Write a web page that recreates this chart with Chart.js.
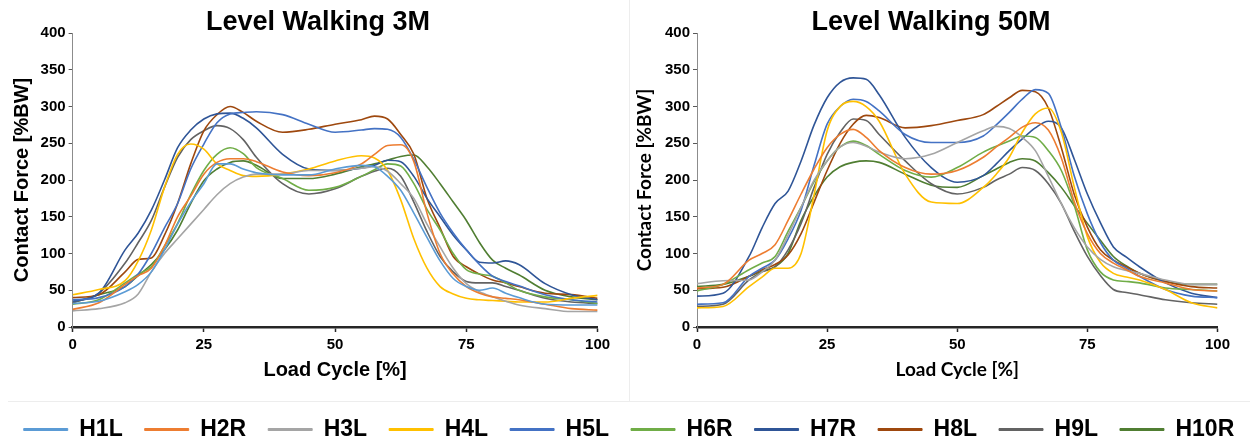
<!DOCTYPE html>
<html>
<head>
<meta charset="utf-8">
<script src="https://cdn.jsdelivr.net/npm/chart.js@4.4.1/dist/chart.umd.min.js"></script>
<style>
    html, body { margin: 0; padding: 0; background: #fff; }
    body { width: 1258px; height: 443px; position: relative; overflow: hidden; }
    canvas { position: absolute; }
    #chart3m { left: 0; top: 0; }
    #chart50m { left: 629px; top: 0; }
    #legendChart { left: 0; top: 396px; }
    .frame { position: absolute; background: #ededed; }
</style>
</head>
<body>
<div class="frame" style="left:8px;top:401px;width:1242px;height:1px"></div>
<div class="frame" style="left:629px;top:0;width:1px;height:402px"></div>
<canvas id="chart3m" width="636" height="402"></canvas>
<canvas id="chart50m" width="605" height="402"></canvas>
<canvas id="legendChart" width="1258" height="130"></canvas>
<script>
// ==================== ДАННЫЕ ====================

// Load cycle [%] sample positions (shared by all series)
const loadCycle = [0, 5, 10, 12.5, 15, 17.5, 20, 22.5, 25, 27.5, 30, 32.5, 35, 40, 45, 50, 55, 57.5, 60, 62.5, 65, 67.5, 70, 72.5, 75, 77.5, 80, 82.5, 85, 90, 95, 100];
const xTicks = [0, 25, 50, 75, 100];
const yTicks = [0, 50, 100, 150, 200, 250, 300, 350, 400];
const subjects = ['H1L', 'H2R', 'H3L', 'H4L', 'H5L', 'H6R', 'H7R', 'H8L', 'H9L', 'H10R'];

// Level walking 3M, contact force [%BW]
const w3_H1L  = [32, 35, 48, 58, 75, 105, 140, 170, 195, 222, 222, 215, 210, 207, 207, 215, 220, 218, 205, 186, 155, 122, 90, 66, 55, 50, 53, 46, 40, 31, 30, 30];
const w3_H2R  = [24, 33, 58, 70, 80, 110, 150, 178, 208, 224, 229, 229, 225, 211, 206, 210, 222, 235, 247, 248, 225, 155, 100, 72, 55, 46, 41, 39, 37, 31, 25, 23];
const w3_H3L  = [22, 25, 33, 45, 75, 100, 120, 140, 160, 180, 195, 204, 208, 208, 213, 213, 216, 218, 212, 195, 175, 140, 109, 80, 59, 48, 41, 35, 30, 25, 21, 21];
const w3_H4L  = [44, 51, 63, 90, 132, 190, 235, 249, 242, 222, 213, 206, 205, 208, 215, 226, 233, 230, 213, 173, 120, 80, 55, 45, 39, 37, 36, 35, 34, 34, 39, 43];
const w3_H5L  = [37, 40, 55, 72, 100, 135, 168, 215, 249, 278, 290, 292, 293, 289, 276, 265, 268, 270, 269, 258, 228, 190, 155, 128, 105, 85, 69, 62, 56, 44, 37, 34];
const w3_H6R  = [31, 37, 60, 72, 82, 110, 141, 180, 213, 235, 244, 236, 217, 202, 186, 190, 205, 214, 222, 219, 195, 160, 132, 100, 78, 72, 69, 60, 50, 41, 37, 32];
const w3_H7R  = [35, 46, 105, 128, 159, 200, 244, 268, 283, 290, 291, 284, 271, 235, 215, 213, 216, 220, 227, 225, 205, 175, 150, 125, 105, 88, 87, 90, 85, 59, 44, 37];
const w3_H8L  = [40, 44, 75, 92, 94, 125, 168, 222, 267, 289, 300, 292, 280, 265, 269, 276, 282, 287, 283, 262, 235, 175, 135, 96, 82, 72, 64, 60, 55, 46, 44, 39];
const w3_H9L  = [33, 46, 87, 115, 145, 190, 231, 255, 267, 274, 270, 255, 231, 195, 181, 188, 205, 212, 216, 205, 170, 130, 96, 75, 62, 60, 60, 55, 50, 39, 34, 32];
const w3_H10R = [33, 44, 55, 70, 85, 105, 132, 168, 199, 215, 224, 226, 220, 202, 202, 208, 218, 222, 227, 232, 234, 218, 195, 170, 145, 115, 91, 80, 71, 50, 41, 37];

// Level walking 50M, contact force [%BW]
const w50_H2R  = [53, 58, 91, 100, 112, 145, 181, 215, 244, 262, 269, 258, 240, 217, 208, 213, 231, 245, 258, 272, 278, 268, 230, 170, 127, 100, 87, 78, 69, 60, 51, 49];
const w50_H3L  = [59, 63, 64, 75, 91, 125, 163, 200, 226, 245, 251, 246, 238, 229, 235, 251, 267, 273, 270, 258, 240, 205, 168, 135, 109, 92, 82, 77, 73, 64, 58, 58];
const w50_H4L  = [26, 28, 55, 68, 80, 80, 100, 180, 267, 300, 307, 300, 280, 208, 170, 168, 190, 208, 231, 265, 290, 298, 265, 190, 123, 88, 73, 68, 64, 51, 33, 26];
const w50_H5L  = [31, 33, 69, 80, 91, 120, 159, 220, 276, 300, 310, 307, 294, 262, 251, 251, 260, 275, 292, 310, 323, 318, 271, 205, 154, 115, 91, 80, 69, 51, 42, 40];
const w50_H6R  = [49, 58, 78, 87, 96, 130, 163, 198, 226, 245, 253, 247, 235, 213, 204, 217, 238, 246, 253, 260, 258, 240, 213, 165, 105, 75, 64, 62, 60, 53, 51, 49];
const w50_H7R  = [42, 46, 96, 135, 168, 185, 226, 275, 312, 333, 339, 337, 316, 258, 217, 197, 206, 222, 240, 256, 271, 280, 271, 228, 181, 142, 109, 95, 82, 60, 46, 40];
const w50_H8L  = [52, 54, 69, 78, 85, 98, 127, 170, 213, 250, 276, 288, 285, 271, 274, 281, 289, 300, 312, 322, 320, 298, 244, 180, 136, 105, 91, 82, 73, 62, 55, 53];
const w50_H9L  = [28, 31, 64, 75, 82, 105, 141, 190, 235, 265, 283, 281, 262, 226, 195, 181, 190, 200, 208, 217, 213, 195, 168, 130, 96, 70, 51, 47, 44, 37, 33, 31];
const w50_H10R = [55, 58, 69, 76, 82, 100, 145, 178, 204, 218, 224, 226, 224, 208, 193, 190, 206, 215, 224, 229, 226, 210, 190, 165, 141, 118, 96, 83, 73, 62, 58, 58];

// ==================== ОФОРМЛЕНИЕ ====================

const subjectColors = {
    H1L: '#5B9BD5', H2R: '#ED7D31', H3L: '#A5A5A5', H4L: '#FFC000', H5L: '#4472C4',
    H6R: '#70AD47', H7R: '#2F5597', H8L: '#9E480E', H9L: '#636363', H10R: '#507E32'
};
const ARIAL = "'Liberation Sans', Arial, sans-serif";
const CALIBRI = "Lato, 'Liberation Sans', sans-serif";

/**
 * Один график "Contact Force" по циклу нагрузки
 */
function renderForceChart(canvasId, title, series, layout) {
    const ctx = document.getElementById(canvasId).getContext('2d');
    return new Chart(ctx, {
        type: 'line',
        data: {
            datasets: series.map(([name, values]) => ({
                label: name,
                data: loadCycle.map((x, i) => ({ x: x, y: values[i] })),
                borderColor: subjectColors[name],
                backgroundColor: subjectColors[name],
                borderWidth: 1.6,
                pointRadius: 0,
                cubicInterpolationMode: 'monotone',
                fill: false
            }))
        },
        options: {
            responsive: false,
            animation: false,
            events: [],
            // left padding only shifts the centred title; the y axis width is forced below
            layout: { padding: { left: layout.padLeft, right: layout.padRight, top: 0, bottom: 0 } },
            plugins: {
                legend: { display: false },
                tooltip: { enabled: false },
                title: {
                    display: true,
                    text: title,
                    color: '#000',
                    font: { family: ARIAL, size: 27, weight: 'bold', lineHeight: 0.78 },
                    padding: { top: 12, bottom: 0 }
                }
            },
            scales: {
                x: {
                    type: 'linear',
                    min: 0,
                    max: 100,
                    afterBuildTicks: (scale) => { scale.ticks = xTicks.map(v => ({ value: v })); },
                    afterFit: (scale) => { scale.height = 75; },
                    grid: { drawOnChartArea: false, drawTicks: true, tickLength: 5, tickColor: '#262626', tickWidth: 1.5 },
                    border: { color: '#262626', width: 2.5 },
                    ticks: { color: '#000', padding: 4, maxRotation: 0, font: { family: ARIAL, size: 15, weight: 'bold' } },
                    title: {
                        display: true,
                        text: 'Load Cycle [%]',
                        color: '#000',
                        font: { family: layout.axisFont, size: layout.axisSize, weight: 'bold' },
                        padding: { top: 0, bottom: layout.xTitlePad }
                    }
                },
                y: {
                    min: 0,
                    max: 400,
                    afterBuildTicks: (scale) => { scale.ticks = yTicks.map(v => ({ value: v })); },
                    afterFit: (scale) => { scale.width = layout.yAxisX - layout.padLeft; },
                    grid: { drawOnChartArea: false, drawTicks: true, tickLength: 4, tickColor: '#595959', tickWidth: 1 },
                    border: { color: '#8c8c8c', width: 1 },
                    ticks: { color: '#000', padding: 3, font: { family: ARIAL, size: 15, weight: 'bold' } },
                    title: {
                        display: true,
                        text: 'Contact Force [%BW]',
                        color: '#000',
                        font: { family: layout.axisFont, size: layout.axisSize, weight: 'bold' },
                        padding: { top: layout.yTitlePad, bottom: 0 }
                    }
                }
            }
        }
    });
}

renderForceChart('chart3m', 'Level Walking 3M', [
    ['H1L', w3_H1L], ['H2R', w3_H2R], ['H3L', w3_H3L], ['H4L', w3_H4L], ['H5L', w3_H5L],
    ['H6R', w3_H6R], ['H7R', w3_H7R], ['H8L', w3_H8L], ['H9L', w3_H9L], ['H10R', w3_H10R]
], { padLeft: 38.4, padRight: 38.4, yAxisX: 72.6, axisFont: ARIAL, axisSize: 20, xTitlePad: 20, yTitlePad: 10.5 - 38.4 });

renderForceChart('chart50m', 'Level Walking 50M', [
    ['H2R', w50_H2R], ['H3L', w50_H3L], ['H4L', w50_H4L], ['H5L', w50_H5L],
    ['H6R', w50_H6R], ['H7R', w50_H7R], ['H8L', w50_H8L], ['H9L', w50_H9L], ['H10R', w50_H10R]
], { padLeft: 14, padRight: 15, yAxisX: 68, axisFont: CALIBRI, axisSize: 19, xTitlePad: 20.6, yTitlePad: 4.6 - 14 });

// Общая легенда снизу
new Chart(document.getElementById('legendChart').getContext('2d'), {
    type: 'line',
    data: {
        datasets: subjects.map(name => ({
            label: name,
            data: [],
            borderColor: subjectColors[name],
            backgroundColor: subjectColors[name],
            borderWidth: 1
        }))
    },
    options: {
        responsive: false,
        animation: false,
        events: [],
        scales: { x: { display: false }, y: { display: false } },
        plugins: {
            tooltip: { enabled: false },
            legend: {
                display: true,
                position: 'top',
                labels: {
                    boxWidth: 44,
                    boxHeight: 2,
                    padding: 22,
                    color: '#000',
                    font: { family: ARIAL, size: 23, weight: 'bold' }
                }
            }
        }
    }
});
</script>
</body>
</html>
